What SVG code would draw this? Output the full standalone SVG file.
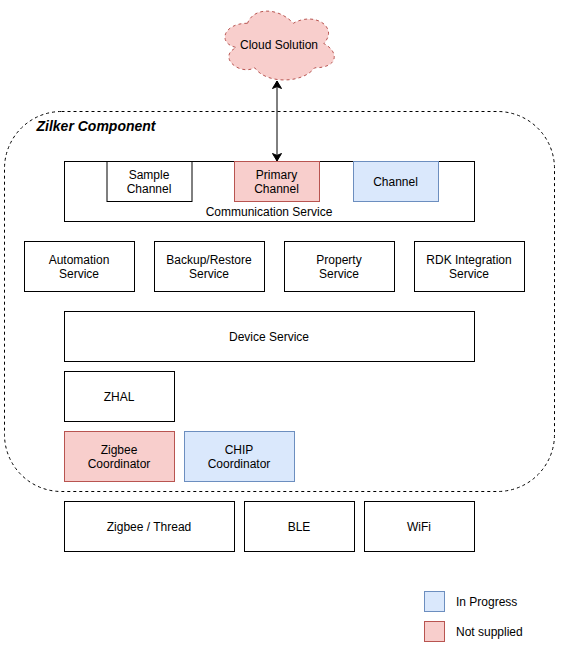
<svg xmlns="http://www.w3.org/2000/svg" width="581" height="649" viewBox="0 0 581 649">
<style>
text{font-family:"Liberation Sans",Arial,Helvetica,sans-serif;font-size:12px;fill:#000;text-anchor:middle}
.b{fill:#fff;stroke:#000;stroke-width:1}
.r{fill:#f8cecc;stroke:#b85450;stroke-width:1}
.u{fill:#dae8fc;stroke:#6c8ebf;stroke-width:1}
</style>
<defs>
<marker id="ah" markerUnits="userSpaceOnUse" markerWidth="12" markerHeight="12" refX="9" refY="6" orient="auto-start-reverse" overflow="visible">
<path d="M1.5 1.5 L9 6 L1.5 10.5 L3.4 6 Z" fill="#000" stroke="#000"/>
</marker>
</defs>
<rect width="581" height="649" fill="#fff"/>
<g id="zilker-component">
<rect x="4.5" y="111.5" width="550" height="380" rx="57" ry="57" fill="none" stroke="#000" stroke-dasharray="3 3"/>
<text x="96" y="131" style="font-weight:bold;font-style:italic;font-size:14px">Zilker Component</text>
</g>
<g id="cloud-solution">
<path d="M247.500 23.250 C223.100 23.250 217 43.500 236.500 47.550 C217 56.460 239 75.900 254.800 67.800 C265.800 84 302.400 84 314.600 67.800 C339 67.800 339 51.600 323.800 43.500 C339 27.300 314.600 11.100 293.300 23.250 C278 7.050 253.600 7.050 247.500 23.250 Z" class="r" stroke-dasharray="3 3"/>
<text x="279" y="49">Cloud Solution</text>
</g>
<g id="communication-service">
<rect x="64.500" y="161.500" width="410" height="60" class="b"/>
<text x="269" y="216">Communication Service</text>
</g>
<g id="sample-channel"><rect x="107" y="161.500" width="85" height="40" class="b"/><text x="149" y="179">Sample</text><text x="149" y="193">Channel</text></g>
<g id="primary-channel"><rect x="234.500" y="161.500" width="85" height="40" class="r"/><text x="276.500" y="179">Primary</text><text x="276.500" y="193">Channel</text></g>
<g id="channel"><rect x="353.500" y="161.500" width="85" height="40" class="u"/><text x="395.500" y="186">Channel</text></g>
<g id="automation-service"><rect x="24.500" y="241.500" width="110" height="50" class="b"/><text x="79" y="264">Automation</text><text x="79" y="278">Service</text></g>
<g id="backup-restore-service"><rect x="154.500" y="241.500" width="110" height="50" class="b"/><text x="209" y="264">Backup/Restore</text><text x="209" y="278">Service</text></g>
<g id="property-service"><rect x="284.500" y="241.500" width="110" height="50" class="b"/><text x="339" y="264">Property</text><text x="339" y="278">Service</text></g>
<g id="rdk-integration-service"><rect x="414.500" y="241.500" width="110" height="50" class="b"/><text x="469" y="264">RDK Integration</text><text x="469" y="278">Service</text></g>
<g id="device-service"><rect x="64.500" y="311.500" width="410" height="50" class="b"/><text x="269" y="341">Device Service</text></g>
<g id="zhal"><rect x="64.500" y="371.500" width="110" height="50" class="b"/><text x="119" y="401">ZHAL</text></g>
<g id="zigbee-coordinator"><rect x="64.500" y="431.500" width="110" height="50" class="r"/><text x="119" y="454">Zigbee</text><text x="119" y="468">Coordinator</text></g>
<g id="chip-coordinator"><rect x="184.500" y="431.500" width="110" height="50" class="u"/><text x="239" y="454">CHIP</text><text x="239" y="468">Coordinator</text></g>
<g id="zigbee-thread"><rect x="64.500" y="501.500" width="170" height="50" class="b"/><text x="149" y="531">Zigbee / Thread</text></g>
<g id="ble"><rect x="244.500" y="501.500" width="110" height="50" class="b"/><text x="299" y="531">BLE</text></g>
<g id="wifi"><rect x="364.500" y="501.500" width="110" height="50" class="b"/><text x="419" y="531">WiFi</text></g>
<g id="legend-in-progress"><rect x="424.500" y="591.500" width="20" height="20" class="u"/><text x="456" y="606" style="text-anchor:start">In Progress</text></g>
<g id="legend-not-supplied"><rect x="424.500" y="621.500" width="20" height="20" class="r"/><text x="456" y="636" style="text-anchor:start">Not supplied</text></g>
<g id="connectors">
<line x1="277" y1="81" x2="277" y2="161" stroke="#000" marker-start="url(#ah)" marker-end="url(#ah)"/>
</g>
</svg>
